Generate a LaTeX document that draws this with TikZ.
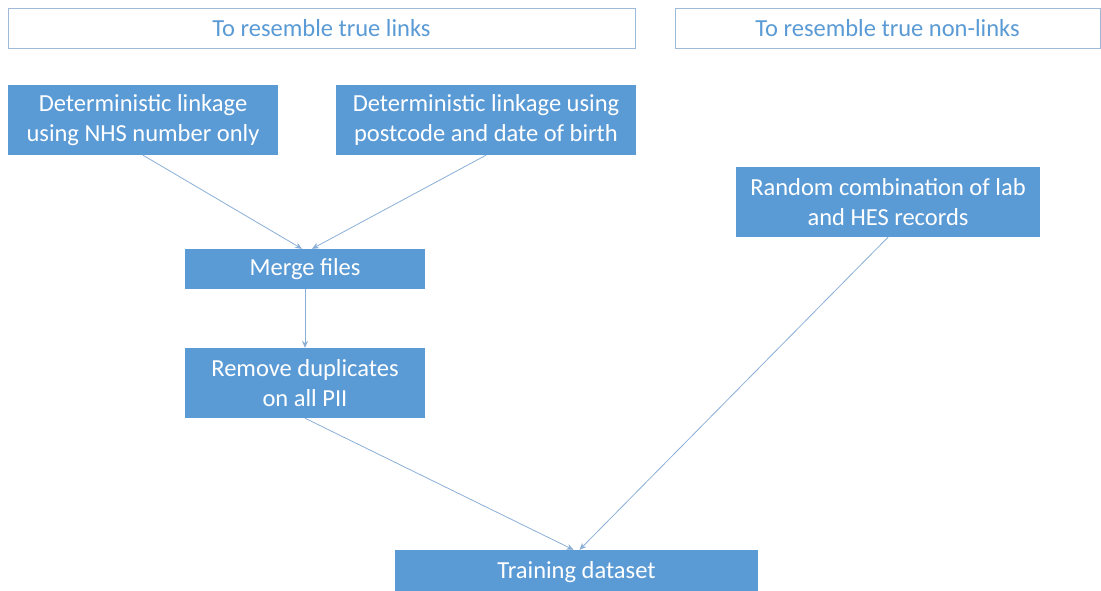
\documentclass[tikz,border=0pt]{standalone}
\usepackage{fontspec}
\setmainfont{Carlito}
\usepackage{tikz}
\usetikzlibrary{arrows.meta}
\usepackage{xcolor}

\definecolor{boxblue}{HTML}{5B9BD5}
\definecolor{headline}{HTML}{9DBAD8}
\definecolor{linkline}{HTML}{8AAED6}

\tikzset{
  headbox/.style={draw=headline, line width=0.8pt, fill=white, text=boxblue,
    inner sep=0pt, font=\fontsize{24.5}{28}\selectfont},
  stepbox/.style={fill=boxblue, text=white, inner sep=0pt, align=center,
    font=\fontsize{24.5}{30}\selectfont},
  flow/.style={draw=linkline, line width=0.8pt, -{Stealth[length=7pt,width=6pt]}}
}

\begin{document}
\begin{tikzpicture}[x=1pt,y=-1pt]
      \useasboundingbox (0,0) rectangle (1101,590);
      \clip (0,0) rectangle (1101,590);
      % headings
      \node[headbox, minimum width=627pt, minimum height=40pt] (truelinks) at (321.5,28) {To resemble true links};
      \node[headbox, minimum width=425pt, minimum height=40pt] (nonlinks) at (887.5,28) {To resemble true non-links};
      % boxes
      \node[stepbox, minimum width=270pt, minimum height=70pt] (nhs) at (143,120) {Deterministic linkage\\using NHS number only};
      \node[stepbox, minimum width=300pt, minimum height=70pt] (postcode) at (486,120) {Deterministic linkage using\\postcode and date of birth};
      \node[stepbox, minimum width=240pt, minimum height=40pt] (merge) at (305,269) {Merge files};
      \node[stepbox, minimum width=240pt, minimum height=70pt] (dedup) at (305,383) {Remove duplicates\\on all PII};
      \node[stepbox, minimum width=304pt, minimum height=70pt] (random) at (888,202) {Random combination of lab\\and HES records};
      \node[stepbox, minimum width=363pt, minimum height=44pt] (training) at (576.5,572) {Training dataset};
      % links
      \draw[flow] (nhs.south) -- ([xshift=-3pt]merge.north);
      \draw[flow] (postcode.south) -- ([xshift=7pt]merge.north);
      \draw[flow] (merge.south) -- (dedup.north);
      \draw[flow] (dedup.south) -- ([xshift=-3pt]training.north);
      \draw[flow] (random.south) -- ([xshift=3pt]training.north);
    \end{tikzpicture}
\end{document}
